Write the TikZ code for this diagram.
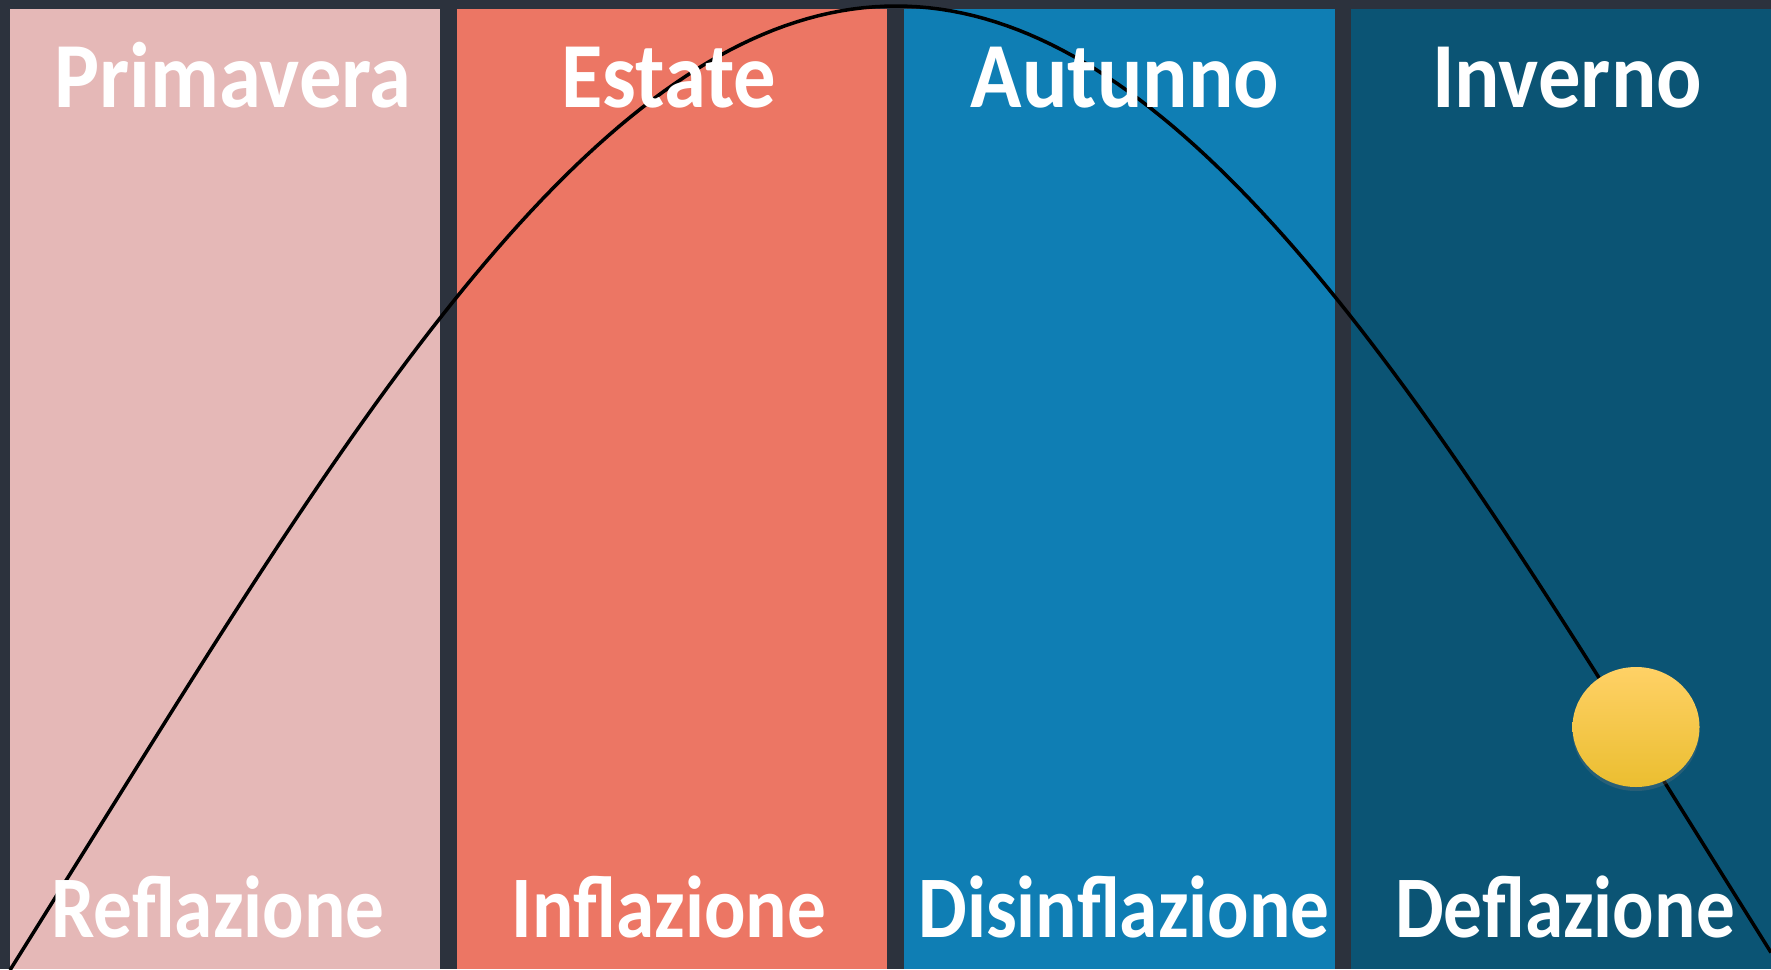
\documentclass[tikz,border=0pt]{standalone}
\usepackage{fontspec}
\usepackage{tikz}
\usetikzlibrary{positioning}
\usetikzlibrary{shapes.geometric}
\usetikzlibrary{shadows}
\newfontfamily\seasonfont[FakeStretch=0.91]{Carlito}
\newfontfamily\phasefont[FakeStretch=0.88]{Carlito}
\definecolor{bgdark}{HTML}{2C323D}
\definecolor{spring}{HTML}{E5B8B7}
\definecolor{summer}{HTML}{EC7664}
\definecolor{autumn}{HTML}{0F7EB4}
\definecolor{winter}{HTML}{0B5474}
\definecolor{suntop}{HTML}{FFD166}
\definecolor{sunmid}{HTML}{FDD043}
\definecolor{sunbot}{HTML}{EBBE30}

\begin{document}
\begin{tikzpicture}
[
x=0.1mm, y=-0.1mm,
panel/.style={rectangle, inner sep=0pt, outer sep=0pt, minimum height=96mm},
season/.style={text=white, inner sep=0pt, anchor=base, font=\seasonfont\bfseries\fontsize{26.5}{30}\selectfont},
phase/.style={text=white, inner sep=0pt, anchor=base, font=\phasefont\bfseries\fontsize{25}{30}\selectfont},
cycle/.style={black, line width=1pt},
ball/.style={ellipse, inner sep=0pt, minimum width=12.7mm, minimum height=12mm,
  top color=suntop, middle color=sunmid, bottom color=sunbot,
  drop shadow={opacity=0.25, shadow xshift=0mm, shadow yshift=-0.4mm}},
]
\fill [bgdark] (0,0) rectangle (1771,969);
\useasboundingbox (0,0) rectangle (1771,969);
% the four seasons
\node (p1) [panel, fill=spring, minimum width=43mm, anchor=north west] at (10,9) {};
\node (p2) [panel, fill=summer, minimum width=43mm, right=1.7mm of p1] {};
\node (p3) [panel, fill=autumn, minimum width=43.1mm, right=1.7mm of p2] {};
\node (p4) [panel, fill=winter, minimum width=42mm, right=1.6mm of p3] {};
% the cycle
\draw [cycle] plot [domain=-886:875, samples=160]
  ({896+\x}, {6 + 794.5*(1-cos(min(abs(\x),780)/780*90)) + 1.6*max(abs(\x)-780,0)});
% names
\node (t1) [season] at (233,107) {Primavera};
\node (t2) [season] at (669,107) {Estate};
\node (t3) [season] at (1125,107) {Autunno};
\node (t4) [season] at (1567,107) {Inverno};
\node (b1) [phase] at (218,937) {Reflazione};
\node (b2) [phase] at (669,937) {Inflazione};
\node (b3) [phase] at (1124,937) {Disinflazione};
\node (b4) [phase] at (1565,937) {Deflazione};
\node (sun) [ball] at (1636,727) {};
\end{tikzpicture}
\end{document}
